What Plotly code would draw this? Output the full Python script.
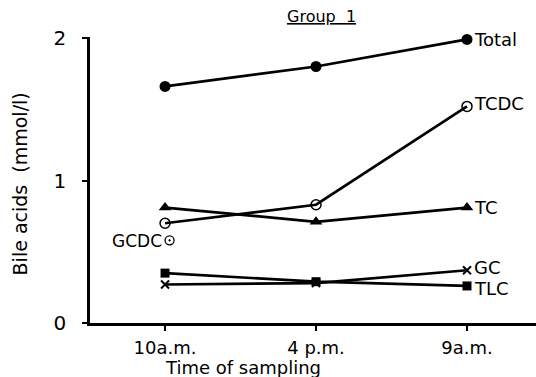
import plotly.graph_objects as go

times = ["10a.m.", "4 p.m.", "9a.m."]
x_pos = [0, 1, 2]

total = [1.66, 1.80, 1.99]
tcdc = [0.70, 0.83, 1.52]
tc = [0.81, 0.71, 0.81]
gc = [0.27, 0.28, 0.37]
tlc = [0.35, 0.29, 0.26]
gcdc_x = [0.03]
gcdc = [0.58]

series = [
    ("Total", total, dict(symbol="circle", size=11, color="black")),
    ("TCDC", tcdc, dict(symbol="circle-open", size=10, color="black", line=dict(width=1.5, color="black"))),
    ("TC", tc, dict(symbol="triangle-up", size=11, color="black")),
    ("GC", gc, dict(symbol="x-thin-open", size=8, color="black", line=dict(width=2, color="black"))),
    ("TLC", tlc, dict(symbol="square", size=9, color="black")),
]

font = "DejaVu Sans"
fig = go.Figure()
for name, vals, mk in series:
    fig.add_trace(go.Scatter(x=x_pos, y=vals, mode="lines+markers", name=name,
                             line=dict(color="black", width=2.7), marker=mk,
                             cliponaxis=False))
fig.add_trace(go.Scatter(x=gcdc_x, y=gcdc, mode="markers", name="GCDC",
                         marker=dict(symbol="circle-dot", size=9, color="white",
                                     line=dict(width=1.3, color="black")),
                         cliponaxis=False))

label_dy = {"Total": 0, "TCDC": 3, "TC": 0, "GC": 3, "TLC": -3}
for name, vals, mk in series:
    fig.add_annotation(x=x_pos[-1], y=vals[-1], text=name, showarrow=False,
                       xanchor="left", yanchor="middle", xshift=5, yshift=label_dy[name],
                       font=dict(family=font, size=18, color="black"))
fig.add_annotation(x=gcdc_x[0], y=gcdc[0], text="GCDC", showarrow=False,
                   xanchor="right", yanchor="middle", xshift=-6, yshift=-1,
                   font=dict(family=font, size=17, color="black"))

fig.add_annotation(xref="paper", yref="paper", x=0.518, y=1.07, text="<u>Group  1</u>",
                   xanchor="center", yanchor="middle",
                   showarrow=False, font=dict(family=font, size=16, color="black"))
fig.add_annotation(xref="paper", yref="paper", x=-0.157, y=0.488,
                   xanchor="center", yanchor="middle",
                   text="Bile acids  (mmol/l)", textangle=-90, showarrow=False,
                   font=dict(family=font, size=19, color="black"))
fig.add_annotation(xref="paper", yref="paper", x=0.344, y=-0.154,
                   xanchor="center", yanchor="middle",
                   text="Time of sampling", showarrow=False,
                   font=dict(family=font, size=18, color="black"))

fig.update_layout(
    width=536, height=377,
    margin=dict(l=90, r=0, t=37, b=54),
    paper_bgcolor="white", plot_bgcolor="white",
    showlegend=False,
    font=dict(family=font, size=17, color="black"),
)
fig.update_xaxes(range=[-0.497, 2.457], tickvals=x_pos, ticktext=times,
                 showgrid=False, zeroline=False, showline=True, linecolor="black",
                 linewidth=2.7, ticks="outside", ticklen=5, tickwidth=2, tickcolor="black",
                 ticklabelstandoff=2,
                 tickfont=dict(family=font, size=18, color="black"))
fig.update_yaxes(range=[0, 2.007], tickvals=[0, 1, 2], ticktext=["0", "1", "2"],
                 showgrid=False, zeroline=False, showline=True, linecolor="black",
                 linewidth=2.7, ticks="outside", ticklen=5, tickwidth=2, tickcolor="black",
                 ticklabelstandoff=12,
                 tickfont=dict(family=font, size=20, color="black"))

fig.write_html("out.html")
